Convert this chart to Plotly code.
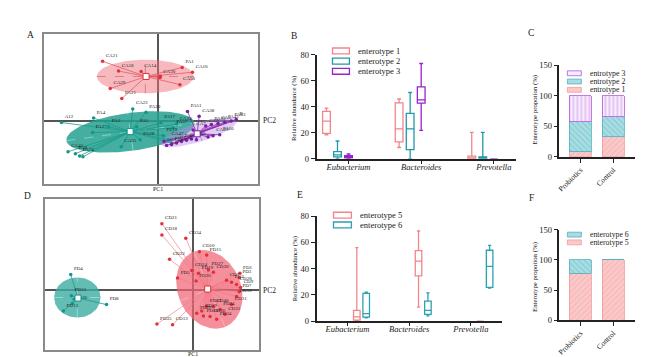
import numpy as np
import plotly.graph_objects as go

W, H = 646, 357
SERIF = "Liberation Serif"


def px(v):
    return v / W


def py(v):
    return 1 - v / H


# ---------------- Panel A data (PCA enterotypes 1-3) ----------------
a1_x = [-5.6, -4.0, -1.73, 2.4, 3.43, 0.17, 2.17, -4.83, -3.67, 0.2]
a1_y = [6.13, 5.13, 5.07, 5.5, 5.0, 4.47, 3.73, 3.33, 2.3, 4.6]
a1_lab = ["CA21", "CA18", "CA14", "PA1", "CA10", "CA30", "CA50", "CA29", "PA21", ""]
a1_center = [-1.23, 4.57]
a1_ell = [-1.3, 4.57, 4.87, 1.73, 0]

a2_x = [-9.73, -6.5, -5.0, -6.6, -2.57, -1.23, -2.17, -1.83, -3.73, -9.07, -8.33, -7.9,
        -7.57, 0.27, 1.83, 1.5, 0.5, 1.0, 1.33]
a2_y = [-0.17, 0.3, -0.6, -1.2, 1.23, 0.9, -0.6, -1.93, -2.67, -3.17, -3.37, -3.6,
        -3.7, -0.2, -0.33, -0.7, -1.53, -1.93, -2.27]
a2_lab = ["A12", "PA4", "PA3", "PA27", "CA22", "PA20", "PA5", "PA28", "CA35", "CA41", "PA8",
          "PA74", "", "PA17", "CA34", "PA37", "PE19", "CA47", ""]
a2_center = [-2.83, -1.1]
a2_ell = [-2.8, -1.13, 6.5, 1.95, 8]

a3_x = [4.1, 2.93, 7.83, 7.33, 6.67, 6.0, 5.33, 4.77, 5.5, 6.17, 5.0, 0.83, 1.33, 1.83,
        2.33, 2.83, 3.33, 3.83, 0.57, 3.5]
a3_y = [0.47, 0.97, 0.13, 0.0, -0.13, -0.27, -0.37, -0.53, -1.53, -1.43, -1.67, -2.53,
        -2.43, -2.27, -2.13, -2.0, -1.87, -1.93, -2.1, -0.93]
a3_lab = ["CA38", "PA51", "B", "PA63", "PA42", "CA5", "PA33", "CA9", "CA23", "PA66", "",
          "CA44", "PA41", "CA31", "PA13", "CA25", "PA60", "", "", "CA7"]
a3_center = [3.9, -1.33]
a3_ell = [4.1, -1.17, 4.0, 0.95, 18]

# ---------------- Panel D data (PCA enterotypes 5-6) ----------------
d6_x = [-12.33, -12.27, -12.0, -12.17, -13.07, -8.73]
d6_y = [1.6, -0.6, -0.93, -1.4, -2.17, -1.5]
d6_lab = ["PD4", "PD53", "", "PD36", "PD13", "PD8"]
d6_center = [-11.6, -0.83]
d6_ell = [-11.67, -0.77, 2.33, 2.07, 0]

d5_x = [-3.17, -3.17, -0.77, 0.6, 1.33, -2.4, -1.6, -0.17, 0.5, 1.5, 2.0, 0.27, 3.33,
        3.83, 4.33, 4.67, 4.6, 4.73, 4.6, 4.33, 3.83, 2.67, 2.0, 1.33, 0.83, 1.0, 1.67,
        2.33, 3.17, 0.33, -3.67, -2.1]
d5_y = [6.83, 5.67, 5.33, 3.93, 3.6, 3.17, 1.23, 2.0, 1.73, 2.07, 1.83, 0.93, 1.0,
        0.8, 0.57, 1.73, 1.27, 0.27, -0.17, -0.67, -1.5, -2.0, -1.73, -1.67, -2.17, -2.67,
        -2.73, -3.0, -2.5, -2.4, -3.5, -3.57]
d5_lab = ["CD21", "CD18", "CD34", "CD10", "PD15", "CD22", "PD5", "CD24", "PD19", "PD27",
          "CD30", "PD20", "CD7", "PD2", "CD28", "PD1", "PD3", "CD9", "PD7", "CD12", "CD31",
          "PD24", "CD40", "PD22", "CD19", "PD16", "CD26", "PD34", "CD33", "PD29", "PD35", "CD13"]
d5_center = [1.43, 0.1]
d5_ell = [1.6, 0.07, 4.17, 3.17, -68]

# ---------------- Panel B data (boxes) ----------------
genera = ["Eubacterium", "Bacteroides", "Prevotella"]
genus_ticks = ["<i>Eubacterium</i>", "<i>Bacteroides</i>", "<i>Prevotella</i>"]
b_names = ["enterotype 1", "enterotype 2", "enterotype 3"]
b_lower = [[18.5, 8.7, 0], [0, 0, 0], [0, 21.9, 0]]
b_q1 = [[19.5, 13, 0], [1.5, 7, 0], [0.7, 42.9, 0]]
b_med = [[29, 23, 0], [3, 23, 0.5], [1.7, 45.4, 0]]
b_q3 = [[36.5, 43, 2], [5.5, 35, 1.5], [2.5, 55.4, 0]]
b_upper = [[39, 46, 20.4], [13.7, 51, 20.4], [3.7, 73.3, 0]]
b_colors = ["#f2858a", "#1f9aa8", "#9a22cf"]

# ---------------- Panel E data (boxes) ----------------
e_names = ["enterotype 5", "enterotype 6"]
e_lower = [[0, 10.7, 0], [2.5, 4, 25.2]]
e_q1 = [[0.7, 34.5, 0], [3, 5.2, 25.7]]
e_med = [[3.2, 45.7, 0], [5.7, 8.2, 41.7]]
e_q3 = [[8.2, 53.7, 0], [21.2, 15.2, 54]]
e_upper = [[56, 68.7, 0], [22, 21.5, 57.7]]
e_colors = ["#f2858a", "#2aa2b2"]

# ---------------- Panels C and F data (stacked proportions) ----------------
groups = ["Probiotics", "Control"]
c_names = ["entrotype 1", "entrotype 2", "entrotype 3"]
c_vals = [[8, 33], [50, 33], [42, 34]]
f_names = ["enterotype 5", "enterotype 6"]
f_vals = [[78, 100], [22, 0]]

pink_bg, pink_fg = "#fac9c9", "#f39a9a"
teal_bg, teal_fg = "#aadde3", "#4fb3bf"
purp_bg, purp_fg = "#f6ecfb", "#b557dd"

fig = go.Figure()


def ellipse(cx, cy, a, b, ang):
    t = np.linspace(0, 2 * np.pi, 140)
    th = np.radians(ang)
    x = cx + a * np.cos(t) * np.cos(th) - b * np.sin(t) * np.sin(th)
    y = cy + a * np.cos(t) * np.sin(th) + b * np.sin(t) * np.cos(th)
    return x, y


def add_cluster_shapes(xa, ya, ell, fill, dash_col):
    ex, ey = ellipse(*ell)
    fig.add_trace(go.Scatter(x=ex, y=ey, mode="lines", fill="toself", fillcolor=fill,
                             line=dict(width=0), hoverinfo="skip", showlegend=False,
                             xaxis=xa, yaxis=ya))
    cx, cy, a, b, ang = ell
    th = np.radians(ang)
    axx = [cx - a * np.cos(th), cx + a * np.cos(th), None,
           cx + b * np.sin(th), cx - b * np.sin(th)]
    axy = [cy - a * np.sin(th), cy + a * np.sin(th), None,
           cy - b * np.cos(th), cy + b * np.cos(th)]
    fig.add_trace(go.Scatter(x=axx, y=axy, mode="lines",
                             line=dict(width=0.7, dash="dash", color=dash_col),
                             hoverinfo="skip", showlegend=False, xaxis=xa, yaxis=ya))


def add_cluster_points(xa, ya, xs, ys, labs, center, line_col, pt_col):
    sx, sy = [], []
    for x, y in zip(xs, ys):
        sx += [x, center[0], None]
        sy += [y, center[1], None]
    fig.add_trace(go.Scatter(x=sx, y=sy, mode="lines", line=dict(width=0.8, color=line_col),
                             hoverinfo="skip", showlegend=False, xaxis=xa, yaxis=ya))
    fig.add_trace(go.Scatter(x=xs, y=ys, mode="markers+text", text=labs,
                             textposition="top right",
                             textfont=dict(size=5, color="#222", family=SERIF),
                             marker=dict(size=3.5, color=pt_col), showlegend=False,
                             xaxis=xa, yaxis=ya))
    fig.add_trace(go.Scatter(x=[center[0]], y=[center[1]], mode="markers",
                             marker=dict(symbol="square", size=6, color="white",
                                         line=dict(width=1, color=pt_col)),
                             showlegend=False, xaxis=xa, yaxis=ya))


# Panel A
add_cluster_shapes("x", "y", a1_ell, "rgba(240,115,125,0.5)", "rgba(200,60,70,0.7)")
add_cluster_shapes("x", "y", a2_ell, "rgba(35,160,143,0.85)", "rgba(230,255,250,0.6)")
add_cluster_shapes("x", "y", a3_ell, "rgba(185,140,228,0.45)", "rgba(140,60,180,0.6)")
add_cluster_points("x", "y", a1_x, a1_y, a1_lab, a1_center, "#e35a64", "#e0313c")
add_cluster_points("x", "y", a2_x, a2_y, a2_lab, a2_center, "#1a9a8a", "#13958a")
add_cluster_points("x", "y", a3_x, a3_y, a3_lab, a3_center, "#8e24aa", "#7b1fa2")

# Panel D
add_cluster_shapes("x4", "y4", d6_ell, "rgba(60,172,162,0.8)", "rgba(230,255,250,0.6)")
add_cluster_shapes("x4", "y4", d5_ell, "rgba(243,100,118,0.72)", "rgba(255,220,225,0.6)")
add_cluster_points("x4", "y4", d6_x, d6_y, d6_lab, d6_center, "#1a9a8a", "#13958a")
add_cluster_points("x4", "y4", d5_x, d5_y, d5_lab, d5_center, "rgba(240,120,130,0.8)", "#e0313c")

# Panel B boxes
for i, name in enumerate(b_names):
    fig.add_trace(go.Box(x=genera, q1=b_q1[i], median=b_med[i], q3=b_q3[i],
                         lowerfence=b_lower[i], upperfence=b_upper[i], name=name,
                         line=dict(color=b_colors[i], width=1.3),
                         fillcolor="rgba(255,255,255,0)", boxpoints=False,
                         showlegend=False, xaxis="x2", yaxis="y2"))

# Panel E boxes
for i, name in enumerate(e_names):
    fig.add_trace(go.Box(x=genera, q1=e_q1[i], median=e_med[i], q3=e_q3[i],
                         lowerfence=e_lower[i], upperfence=e_upper[i], name=name,
                         line=dict(color=e_colors[i], width=1.3),
                         fillcolor="rgba(255,255,255,0)", boxpoints=False,
                         showlegend=False, xaxis="x5", yaxis="y5"))

# Panel C bars
c_style = [(pink_bg, pink_fg, "/"), (teal_bg, teal_fg, "\\"), (purp_bg, purp_fg, "|")]
for i, name in enumerate(c_names):
    bg, fg, sh = c_style[i]
    fig.add_trace(go.Bar(x=groups, y=c_vals[i], name=name,
                         marker=dict(color=bg, line=dict(color=fg, width=0.8),
                                     pattern=dict(shape=sh, fgcolor=fg, bgcolor=bg,
                                                  size=4, solidity=0.25)),
                         showlegend=False, xaxis="x3", yaxis="y3"))

# Panel F bars
f_style = [(pink_bg, pink_fg, "/"), (teal_bg, teal_fg, "\\")]
for i, name in enumerate(f_names):
    bg, fg, sh = f_style[i]
    fig.add_trace(go.Bar(x=groups, y=f_vals[i], name=name,
                         marker=dict(color=bg, line=dict(color=fg, width=0.8),
                                     pattern=dict(shape=sh, fgcolor=fg, bgcolor=bg,
                                                  size=4, solidity=0.25)),
                         showlegend=False, xaxis="x6", yaxis="y6"))

# ---------------- axes ----------------
pca_axis = dict(showgrid=False, zeroline=True, zerolinecolor="#555", zerolinewidth=1.5,
                showline=True, mirror=True, linecolor="#8a8a8a", linewidth=1.5,
                showticklabels=False, ticks="")
tickfont = dict(family=SERIF, size=8.5, color="#222")
val_axis = dict(showgrid=False, zeroline=False, showline=True, linecolor="#222",
                linewidth=1.5, ticks="outside", ticklen=4, tickwidth=1.2,
                tickcolor="#222", tickfont=tickfont)
cat_axis = dict(showgrid=False, zeroline=False, showline=True, linecolor="#222",
                linewidth=1.5, ticks="outside", ticklen=3, tickwidth=1.2,
                tickcolor="#222", tickfont=dict(family=SERIF, size=8.5, color="#222"),
                ticklabelstandoff=-4)
grp_axis = dict(showgrid=False, zeroline=False, showline=True, linecolor="#222",
                linewidth=1.5, ticks="outside", ticklen=4, tickwidth=1.2,
                tickcolor="#222", tickangle=-45,
                tickfont=dict(family=SERIF, size=7.5, color="#222"))

layout = dict(
    width=W, height=H, margin=dict(l=0, r=0, t=0, b=0),
    paper_bgcolor="white", plot_bgcolor="white",
    barmode="stack", bargap=0.33, boxmode="group", boxgap=0.24, boxgroupgap=0.3,
    font=dict(family=SERIF, color="#222"),
    xaxis=dict(domain=[px(33), px(248)], range=[-11.5, 10], anchor="y", **pca_axis),
    yaxis=dict(domain=[py(176), py(22)], range=[-6.5, 8.9], anchor="x", **pca_axis),
    xaxis4=dict(domain=[px(34), px(249)], range=[-14.93, 6.57], anchor="y4", **pca_axis),
    yaxis4=dict(domain=[py(347), py(191)], range=[-6.2, 9.4], anchor="x4", **pca_axis),
    xaxis2=dict(domain=[px(307), px(507)], type="category", range=[-0.44, 2.3],
                anchor="y2", tickvals=genera, ticktext=genus_ticks, **cat_axis),
    yaxis2=dict(domain=[py(150), py(43)], range=[0, 80], tickvals=[0, 20, 40, 60, 80],
                anchor="x2", **val_axis),
    xaxis5=dict(domain=[px(307), px(493)], type="category", range=[-0.5, 2.5],
                anchor="y5", tickvals=genera, ticktext=genus_ticks, **cat_axis),
    yaxis5=dict(domain=[py(317), py(209)], range=[0, 80], tickvals=[0, 20, 40, 60, 80],
                anchor="x5", **val_axis),
    xaxis3=dict(domain=[px(551), px(627)], type="category", range=[-0.64, 1.67],
                anchor="y3", **grp_axis),
    yaxis3=dict(domain=[py(148), py(54)], range=[0, 150], tickvals=[0, 50, 100, 150],
                anchor="x3", **val_axis),
    xaxis6=dict(domain=[px(551), px(627)], type="category", range=[-0.64, 1.67],
                anchor="y6", **grp_axis),
    yaxis6=dict(domain=[py(316), py(223)], range=[0, 150], tickvals=[0, 50, 100, 150],
                anchor="x6", **val_axis),
)
fig.update_layout(**layout)

ann = []
shapes = []


def text(x, y, s, size=8, xanchor="center", yanchor="middle", angle=0, color="#222"):
    ann.append(dict(x=px(x), y=py(y), xref="paper", yref="paper", text=s, showarrow=False,
                    xanchor=xanchor, yanchor=yanchor, textangle=angle,
                    font=dict(family=SERIF, size=size, color=color)))


# panel letters
for lab, x, y in [("A", 20, 23), ("B", 284, 24), ("C", 522, 21),
                  ("D", 17, 188), ("E", 290, 187), ("F", 523, 190)]:
    text(x, y, lab, size=9.5)

# PC labels
text(251, 111, "PC2", size=7.5, xanchor="left")
text(148, 181, "PC1", size=6)
text(251, 285, "PC2", size=7.5, xanchor="left")
text(183, 351, "PC1", size=6)

# y-axis titles
text(285, 98, "Relative abundance (%)", size=6.8, angle=-90)
text(285, 263, "Relative abundance (%)", size=6.8, angle=-90)
text(527, 100, "Enterotype propotion (%)", size=6.8, angle=-90)
text(527, 272, "Enterotype propotion (%)", size=6.8, angle=-90)


def legend_box(x0, x1, yc, color, label, tx):
    shapes.append(dict(type="rect", xref="paper", yref="paper", x0=px(x0), x1=px(x1),
                       y0=py(yc + 3), y1=py(yc - 3), line=dict(color=color, width=1.3),
                       fillcolor="rgba(255,255,255,0)"))
    text(tx, yc, label, size=8.5, xanchor="left")


def legend_fill(x0, x1, yc, bg, fg, label, tx):
    shapes.append(dict(type="rect", xref="paper", yref="paper", x0=px(x0), x1=px(x1),
                       y0=py(yc + 2.5), y1=py(yc - 2.5), line=dict(color=fg, width=0.8),
                       fillcolor=bg))
    text(tx, yc, label, size=7.8, xanchor="left")


for i, yc in enumerate([39, 49.5, 60]):
    legend_box(323, 340, yc, b_colors[i], b_names[i], 347)
for i, yc in enumerate([208, 218]):
    legend_box(324, 342, yc, e_colors[i], e_names[i], 349)
for (i, yc) in zip([2, 1, 0], [62, 70.5, 79]):
    legend_fill(559, 573, yc, c_style[i][0], c_style[i][1], c_names[i], 580)
for (i, yc) in zip([1, 0], [228, 236]):
    legend_fill(559, 573, yc, f_style[i][0], f_style[i][1], f_names[i], 580)

fig.update_layout(annotations=ann, shapes=shapes)
fig.write_html("out.html")
